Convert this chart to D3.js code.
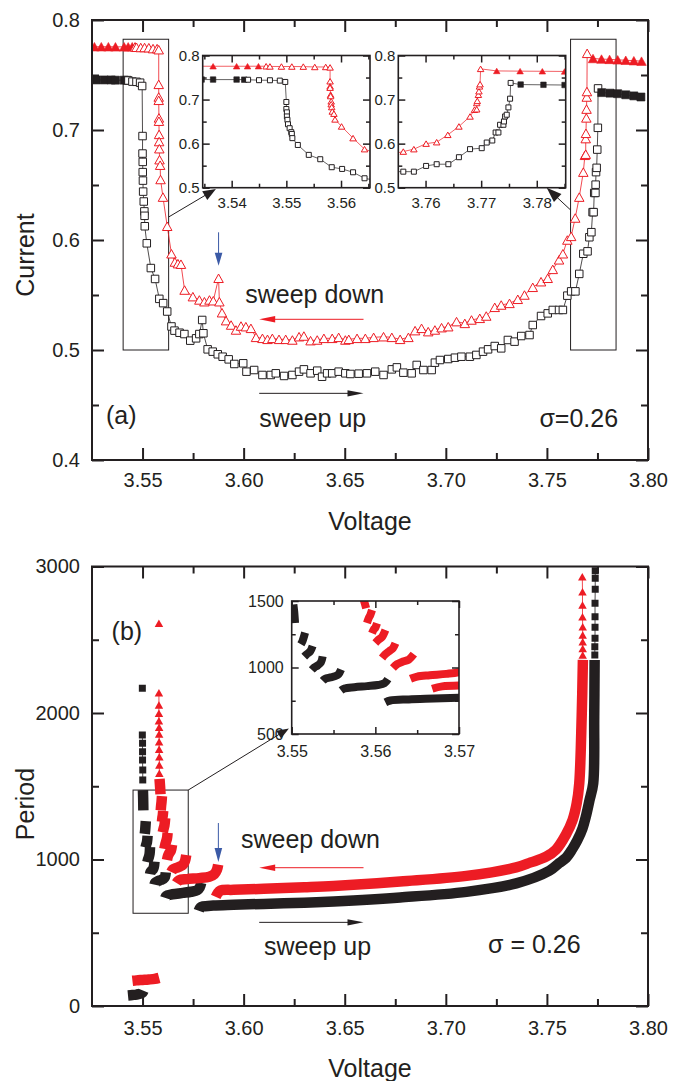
<!DOCTYPE html>
<html>
<head>
<meta charset="utf-8">
<script src="https://cdn.jsdelivr.net/npm/d3@7"></script>
<style>
  body { margin: 0; background: #fff; }
  svg { display: block; }
  text { font-family: "Liberation Sans", Arial, sans-serif; }
</style>
</head>
<body>
<script>
// ---------- data: current vs voltage (panel a) ----------
// [voltage, current], in sweep order
const currentSweepUp = [
  [3.5270,0.7455],[3.5310,0.7455],[3.5345,0.7455],[3.5366,0.7453],[3.5409,0.7453],[3.5423,0.7452],
  [3.5430,0.7450],[3.5450,0.7440],[3.5470,0.7438],[3.5488,0.7430],[3.5498,0.7400],
  [3.5500,0.6945],[3.5500,0.6786],[3.5501,0.6710],[3.5501,0.6617],[3.5502,0.6540],[3.5503,0.6440],
  [3.5506,0.6350],[3.5509,0.6260],[3.5510,0.6220],[3.5511,0.6125],[3.5521,0.5970],[3.5541,0.5745],
  [3.5562,0.5646],[3.5583,0.5465],[3.5602,0.5426],[3.5622,0.5350],[3.5643,0.5214],
  [3.5658,0.5176],[3.5683,0.5157],[3.5707,0.5145],[3.5736,0.5085],[3.5765,0.5106],[3.5781,0.5145],
  [3.5795,0.5273],[3.5801,0.5152],[3.5822,0.5006],[3.5847,0.4985],[3.5872,0.4961],[3.5896,0.4939],
  [3.5926,0.4915],[3.5954,0.4873],[3.5998,0.4879],[3.6014,0.4803],[3.6052,0.4818],[3.6093,0.4773],
  [3.6134,0.4773],[3.6159,0.4788],[3.6200,0.4764],[3.6241,0.4773],[3.6274,0.4803],[3.6298,0.4824],
  [3.6331,0.4788],[3.6364,0.4812],[3.6388,0.4757],[3.6413,0.4788],[3.6438,0.4788],[3.6470,0.4803],
  [3.6503,0.4788],[3.6528,0.4782],[3.6569,0.4785],[3.6610,0.4788],[3.6651,0.4803],[3.6692,0.4773],
  [3.6733,0.4824],[3.6758,0.4842],[3.6790,0.4794],[3.6831,0.4788],[3.6856,0.4864],[3.6889,0.4818],
  [3.6930,0.4818],[3.6946,0.4885],[3.6971,0.4909],[3.7012,0.4918],[3.7045,0.4930],[3.7077,0.4939],
  [3.7119,0.4939],[3.7151,0.4955],[3.7184,0.4985],[3.7209,0.5006],[3.7242,0.5036],[3.7274,0.5015],
  [3.7307,0.5091],[3.7340,0.5076],[3.7373,0.5127],[3.7414,0.5136],[3.7430,0.5227],[3.7471,0.5309],
  [3.7504,0.5333],[3.7529,0.5364],[3.7560,0.5364],[3.7579,0.5364],[3.7601,0.5494],[3.7620,0.5533],
  [3.7641,0.5533],[3.7660,0.5692],[3.7680,0.5875],[3.7701,0.5897],[3.7710,0.6025],[3.7720,0.6071],
  [3.7726,0.6253],[3.7731,0.6253],[3.7734,0.6428],[3.7740,0.6428],[3.7741,0.6503],[3.7743,0.6617],
  [3.7746,0.6656],[3.7749,0.6822],[3.7752,0.7020],[3.7753,0.7378],
  [3.7771,0.7340],[3.7812,0.7335],[3.7850,0.7330],[3.7890,0.7320],[3.7930,0.7310],[3.7965,0.7300]
];
const currentSweepDown = [
  [3.5262,0.7757],[3.5296,0.7757],[3.5331,0.7757],[3.5366,0.7756],[3.5409,0.7756],[3.5429,0.7756],[3.5449,0.7757],
  [3.5463,0.7756],[3.5470,0.7752],[3.5491,0.7750],[3.5510,0.7750],[3.5531,0.7748],[3.5552,0.7740],[3.5572,0.7740],[3.5580,0.7730],
  [3.5580,0.7415],[3.5580,0.7300],[3.5580,0.7270],[3.5581,0.7110],[3.5581,0.7080],[3.5582,0.6960],[3.5582,0.6895],
  [3.5583,0.6830],[3.5584,0.6730],[3.5587,0.6680],[3.5589,0.6550],[3.5601,0.6390],[3.5622,0.6125],[3.5643,0.5875],
  [3.5660,0.5800],[3.5675,0.5785],[3.5690,0.5780],[3.5708,0.5545],[3.5749,0.5485],[3.5781,0.5455],[3.5806,0.5439],
  [3.5831,0.5455],[3.5850,0.5448],[3.5876,0.5652],[3.5880,0.5439],[3.5893,0.5339],[3.5913,0.5267],[3.5938,0.5227],
  [3.5962,0.5182],[3.5987,0.5218],[3.6011,0.5212],[3.6036,0.5197],[3.6061,0.5115],[3.6093,0.5106],[3.6118,0.5097],
  [3.6142,0.5106],[3.6175,0.5097],[3.6208,0.5097],[3.6241,0.5091],[3.6274,0.5121],[3.6298,0.5127],[3.6331,0.5085],
  [3.6364,0.5091],[3.6397,0.5106],[3.6438,0.5106],[3.6470,0.5115],[3.6503,0.5091],[3.6520,0.5097],[3.6561,0.5106],
  [3.6602,0.5106],[3.6643,0.5115],[3.6692,0.5121],[3.6733,0.5115],[3.6774,0.5097],[3.6815,0.5115],[3.6848,0.5176],
  [3.6880,0.5197],[3.6913,0.5167],[3.6946,0.5182],[3.6979,0.5203],[3.7012,0.5212],[3.7053,0.5258],[3.7094,0.5242],
  [3.7127,0.5273],[3.7168,0.5288],[3.7200,0.5309],[3.7242,0.5388],[3.7274,0.5409],[3.7315,0.5424],[3.7356,0.5461],
  [3.7389,0.5500],[3.7430,0.5570],[3.7471,0.5621],[3.7504,0.5652],[3.7529,0.5733],[3.7560,0.5820],[3.7579,0.5875],
  [3.7601,0.6000],[3.7620,0.6033],[3.7640,0.6200],[3.7660,0.6390],[3.7680,0.6617],[3.7688,0.6770],[3.7692,0.6780],
  [3.7692,0.6922],[3.7693,0.6970],[3.7695,0.7110],[3.7696,0.7190],[3.7697,0.7300],[3.7698,0.7350],[3.7699,0.7697],
  [3.7728,0.7650],[3.7770,0.7645],[3.7810,0.7642],[3.7850,0.7638],[3.7890,0.7634],[3.7930,0.7630],[3.7968,0.7626]
];
// voltage window in which each sweep oscillates (open symbols)
const upOscillatingRange = [3.5427, 3.7760];
const downOscillatingRange = [3.5456, 3.7710];

// ---------- data: period vs voltage (panel b) ----------
// continuous runs of densely sampled points, [voltage, period]
const periodUpBands = [
  [[3.5428,72],[3.5450,75],[3.5470,78],[3.5490,84],[3.5500,92],[3.5505,104]],
  [[3.5502,1474],[3.5503,1420],[3.5504,1335]],
  [[3.5511,1175],[3.5513,1200],[3.5516,1262]],
  [[3.5515,1082],[3.5518,1100],[3.5522,1120],[3.5525,1162]],
  [[3.5524,982],[3.5527,1000],[3.5531,1015],[3.5535,1040],[3.5537,1084]],
  [[3.5537,900],[3.5540,915],[3.5546,925],[3.5552,935],[3.5556,950],[3.5559,985]],
  [[3.5559,828],[3.5563,842],[3.5575,852],[3.5590,860],[3.5603,868],[3.5611,882],[3.5615,912]],
  [[3.5612,738],[3.5618,752],[3.5640,760],[3.5670,766],[3.5700,772],[3.5740,780],[3.5770,790],[3.5783,810],[3.5790,840]],
  [[3.5778,650],[3.5786,672],[3.5800,680],[3.5850,686],[3.5950,691],[3.6100,697],[3.6300,705],[3.6446,714],
   [3.6774,741],[3.7102,779],[3.7348,837],[3.7512,923],[3.7560,975],[3.7594,1010],[3.7625,1070],[3.7650,1130],
   [3.7676,1212],[3.7692,1290],[3.7710,1400],[3.7729,1520],[3.7734,1975],[3.7736,2362]]
];
// isolated samples, [voltage, period]
const periodUpPoints = [
  [3.5499,2169],[3.5499,1850],[3.5500,1793],[3.5500,1736],[3.5500,1679],[3.5501,1611],[3.5501,1543],
  [3.7737,2396],[3.7737,2453],[3.7738,2510],[3.7738,2585],[3.7738,2657],[3.7738,2749],[3.7739,2844],[3.7739,2919],[3.7739,2971]
];
const periodDownBands = [
  [[3.5450,172],[3.5470,175],[3.5500,178],[3.5530,181],[3.5560,185],[3.5582,192]],
  [[3.5584,1550],[3.5587,1490],[3.5589,1445]],
  [[3.5590,1335],[3.5592,1370],[3.5594,1395],[3.5596,1432]],
  [[3.5596,1258],[3.5598,1285],[3.5600,1300],[3.5602,1332]],
  [[3.5600,1185],[3.5604,1210],[3.5608,1230],[3.5612,1282]],
  [[3.5608,1072],[3.5612,1100],[3.5617,1125],[3.5621,1145],[3.5624,1182]],
  [[3.5621,996],[3.5626,1025],[3.5633,1045],[3.5640,1060],[3.5646,1100]],
  [[3.5642,915],[3.5650,932],[3.5665,942],[3.5685,952],[3.5700,965],[3.5710,990],[3.5716,1030]],
  [[3.5668,840],[3.5680,858],[3.5720,866],[3.5780,873],[3.5830,882],[3.5855,900],[3.5868,930],[3.5874,965]],
  [[3.5862,745],[3.5872,770],[3.5885,788],[3.5950,793],[3.6100,800],[3.6300,810],[3.6446,819],[3.6774,850],
   [3.7102,888],[3.7348,946],[3.7420,980],[3.7496,1019],[3.7545,1068],[3.7594,1170],[3.7627,1270],[3.7647,1380],
   [3.7660,1520],[3.7672,1975],[3.7678,2362]]
];
const periodDownPoints = [
  [3.5581,2612],[3.5581,2138],[3.5581,2054],[3.5581,1998],[3.5581,1947],[3.5582,1902],[3.5582,1857],
  [3.5582,1804],[3.5582,1752],[3.5583,1702],[3.5583,1645],[3.5583,1588],
  [3.7677,2396],[3.7677,2441],[3.7677,2487],[3.7677,2532],[3.7677,2589],[3.7676,2657],[3.7676,2737],[3.7676,2828],[3.7675,2930]
];

// ---------- axis ticks ----------
const voltageMajor = [3.55, 3.60, 3.65, 3.70, 3.75, 3.80];
const voltageMinor = [3.575, 3.625, 3.675, 3.725, 3.775];
const currentMajor = [0.4, 0.5, 0.6, 0.7, 0.8];
const currentMinor = [0.45, 0.55, 0.65, 0.75];
const periodMajor = [0, 1000, 2000, 3000];
const periodMinor = [500, 1500, 2500];
const insetLeftVoltMajor = [3.54, 3.55, 3.56];
const insetLeftVoltMinor = [3.535, 3.545, 3.555, 3.565];
const insetRightVoltMajor = [3.76, 3.77, 3.78];
const insetRightVoltMinor = [3.765, 3.775, 3.785];
const insetCurrentMajor = [0.5, 0.6, 0.7, 0.8];
const insetCurrentMinor = [0.55, 0.65, 0.75];
const insetPeriodVoltMajor = [3.55, 3.56, 3.57];
const insetPeriodVoltMinor = [3.555, 3.565];
const insetPeriodMajor = [500, 1000, 1500];
const insetPeriodMinor = [750, 1250];

// ---------- annotations (data units) ----------
const zoomBoxesA = [[3.5404, 3.5629, 0.5, 0.7825], [3.7617, 3.7842, 0.5, 0.7825]];
const zoomBoxB = [3.5453, 3.5726, 633, 1474];

// ---------- drawing ----------
const BLACK = "#231f20", RED = "#ed1c24", BLUE = "#3b5aa6";
const W = 685, H = 1081;
const svg = d3.select("body").append("svg").attr("width", W).attr("height", H);
const defs = svg.append("defs");

const xA = d3.scaleLinear().domain([3.525, 3.80]).range([92, 648]);
const yA = d3.scaleLinear().domain([0.4, 0.8]).range([460, 20]);
const xB = d3.scaleLinear().domain([3.525, 3.80]).range([92, 648]);
const yB = d3.scaleLinear().domain([0, 3000]).range([1006, 566.5]);

const xIL = d3.scaleLinear().domain([3.5347, 3.5653]).range([202.7, 370]);
const yIL = d3.scaleLinear().domain([0.5, 0.8]).range([187.7, 55.5]);
const xIR = d3.scaleLinear().domain([3.7551, 3.7852]).range([398.3, 565.7]);
const yIR = yIL.copy();
const xIB = d3.scaleLinear().domain([3.55, 3.57]).range([291.7, 459]);
const yIB = d3.scaleLinear().domain([500, 1500]).range([734, 601]);

let clipId = 0;
function clipFor(x, y) {
  const id = "clip" + (clipId++);
  const [x0, x1] = x.range(), [y0, y1] = y.range();
  defs.append("clipPath").attr("id", id).append("rect")
    .attr("x", x0).attr("y", y1).attr("width", x1 - x0).attr("height", y0 - y1);
  return `url(#${id})`;
}

function drawFrame(g, x, y, o) {
  const [x0, x1] = x.range(), [y0, y1] = y.range();
  const inDom = (s, vals) => vals.filter(v => v >= Math.min(...s.domain()) - 1e-9 && v <= Math.max(...s.domain()) + 1e-9);
  const add = (axis, tx, ty, vals, size, fmt, pad) => {
    const a = g.append("g").attr("transform", `translate(${tx},${ty})`)
      .call(axis.tickValues(vals).tickSizeInner(size).tickSizeOuter(0).tickPadding(pad).tickFormat(fmt));
    a.select(".domain").remove();
    a.attr("color", BLACK).attr("font-size", o.font);
    a.selectAll(".tick line").attr("stroke-width", o.tw);
    a.selectAll("text").attr("fill", BLACK);
    return a;
  };
  const none = () => "";
  const xM = inDom(x, o.xMajor), xm = inDom(x, o.xMinor), yM = inDom(y, o.yMajor), ym = inDom(y, o.yMinor);
  add(d3.axisBottom(x), 0, y0, xM, -o.major, o.xFmt, o.xPad);
  add(d3.axisBottom(x), 0, y0, xm, -o.minor, none, 0);
  add(d3.axisTop(x), 0, y1, xM, -o.major, none, 0);
  add(d3.axisTop(x), 0, y1, xm, -o.minor, none, 0);
  add(d3.axisLeft(y), x0, 0, yM, -o.major, o.yFmt, o.yPad);
  add(d3.axisLeft(y), x0, 0, ym, -o.minor, none, 0);
  add(d3.axisRight(y), x1, 0, yM, -o.major, none, 0);
  add(d3.axisRight(y), x1, 0, ym, -o.minor, none, 0);
  g.append("rect").attr("x", x0).attr("y", y1).attr("width", x1 - x0).attr("height", y0 - y1)
    .attr("fill", "none").attr("stroke", BLACK).attr("stroke-width", o.sw);
}

function squarePath(s) { return `M${-s/2},${-s/2}h${s}v${s}h${-s}Z`; }
function trianglePath(w, h) { return `M0,${-h/2}L${w/2},${h/2}L${-w/2},${h/2}Z`; }

// connected scatter with open symbols inside the oscillating window, filled outside
function drawCurrent(g, x, y, data, osc, color, symbol, lw) {
  const isOpen = d => d[0] >= osc[0] && d[0] <= osc[1];
  g.append("path").datum(data)
    .attr("d", d3.line().x(d => x(d[0])).y(d => y(d[1])))
    .attr("fill", "none").attr("stroke", color).attr("stroke-width", lw);
  g.selectAll(null).data(data).join("path")
    .attr("transform", d => `translate(${x(d[0])},${y(d[1])})`)
    .attr("d", d => isOpen(d) ? symbol.open : symbol.filled)
    .attr("fill", d => isOpen(d) ? "#fff" : color)
    .attr("stroke", color).attr("stroke-width", d => isOpen(d) ? 1 : 0.6);
}

// dense runs drawn as a thick trace, isolated samples as symbols
function drawPeriod(g, x, y, bands, points, color, shape, bandW) {
  const line = d3.line().x(d => x(d[0])).y(d => y(d[1])).curve(d3.curveCatmullRom.alpha(0.5));
  g.selectAll(null).data(bands).join("path")
    .attr("d", line).attr("fill", "none").attr("stroke", color)
    .attr("stroke-width", bandW).attr("stroke-linejoin", "round").attr("stroke-linecap", "butt");
  for (let i = 1; i < points.length; i++) {
    const a = points[i - 1], b = points[i];
    const d = Math.hypot(x(a[0]) - x(b[0]), y(a[1]) - y(b[1]));
    if (d < 20) g.append("line").attr("x1", x(a[0])).attr("y1", y(a[1])).attr("x2", x(b[0])).attr("y2", y(b[1]))
      .attr("stroke", color).attr("stroke-width", 0.8);
  }
  g.selectAll(null).data(points).join("path")
    .attr("transform", d => `translate(${x(d[0])},${y(d[1])})`)
    .attr("d", shape).attr("fill", color);
}

function arrow(g, x1, y1, x2, y2, color, len, half, sw) {
  const ang = Math.atan2(y2 - y1, x2 - x1);
  const bx = x2 - len * Math.cos(ang), by = y2 - len * Math.sin(ang);
  const px = -Math.sin(ang) * half, py = Math.cos(ang) * half;
  g.append("line").attr("x1", x1).attr("y1", y1).attr("x2", bx + Math.cos(ang) * 2).attr("y2", by + Math.sin(ang) * 2)
    .attr("stroke", color).attr("stroke-width", sw);
  g.append("path").attr("d", `M${x2},${y2}L${bx + px},${by + py}L${bx - px},${by - py}Z`).attr("fill", color);
}

function label(g, x, y, txt, size, anchor) {
  return g.append("text").attr("x", x).attr("y", y).attr("font-size", size)
    .attr("text-anchor", anchor || "start").attr("fill", BLACK).text(txt);
}

const fmt2 = d3.format(".2f"), fmt1 = d3.format(".1f"), fmtD = d3.format("d");

// ===== panel (a) =====
const gA = svg.append("g");
const clipA = clipFor(xA, yA);
zoomBoxesA.forEach(b => {
  gA.append("rect").attr("x", xA(b[0])).attr("y", yA(b[3])).attr("width", xA(b[1]) - xA(b[0]))
    .attr("height", yA(b[2]) - yA(b[3])).attr("fill", "none").attr("stroke", BLACK).attr("stroke-width", 1);
});
const dataA = gA.append("g").attr("clip-path", clipA);
const symA = {
  sq: { open: squarePath(7.5), filled: squarePath(8) },
  tri: { open: trianglePath(9.5, 8.5), filled: trianglePath(9.5, 8.5) }
};
drawCurrent(dataA, xA, yA, currentSweepUp, upOscillatingRange, BLACK, symA.sq, 0.8);
drawCurrent(dataA, xA, yA, currentSweepDown, downOscillatingRange, RED, symA.tri, 0.8);
drawFrame(gA, xA, yA, { xMajor: voltageMajor, xMinor: voltageMinor, yMajor: currentMajor, yMinor: currentMinor,
  xFmt: fmt2, yFmt: fmt1, major: 12, minor: 7, font: 20, xPad: 13, yPad: 12, tw: 2, sw: 2 });

// arrows linking the zoom boxes to the insets
arrow(gA, xA(3.5629), yA(0.6209), xA(3.5863), yA(0.6464), BLACK, 13, 5, 1);
arrow(gA, xA(3.7617), yA(0.6273), xA(3.7499), yA(0.6475), BLACK, 15, 5.5, 1);

// insets of panel (a)
[[xIL, yIL, insetLeftVoltMajor, insetLeftVoltMinor], [xIR, yIR, insetRightVoltMajor, insetRightVoltMinor]].forEach(([xi, yi, M, m]) => {
  const gi = svg.append("g");
  const [x0, x1] = xi.range(), [y0, y1] = yi.range();
  gi.append("rect").attr("x", x0).attr("y", y1).attr("width", x1 - x0).attr("height", y0 - y1).attr("fill", "#fff");
  const di = gi.append("g").attr("clip-path", clipFor(xi, yi));
  drawCurrent(di, xi, yi, currentSweepUp, upOscillatingRange, BLACK, { open: squarePath(5), filled: squarePath(5.5) }, 0.7);
  drawCurrent(di, xi, yi, currentSweepDown, downOscillatingRange, RED, { open: trianglePath(6.5, 5.5), filled: trianglePath(6.5, 5.5) }, 0.7);
  drawFrame(gi, xi, yi, { xMajor: M, xMinor: m, yMajor: insetCurrentMajor, yMinor: insetCurrentMinor,
    xFmt: fmt2, yFmt: fmt1, major: 7, minor: 4, font: 15, xPad: 9.5, yPad: 3, tw: 1.5, sw: 1.6 });
});

// sweep direction arrows and notes
arrow(gA, xA(3.6593), yA(0.5279), xA(3.6077), yA(0.5279), RED, 16, 3.2, 1);
arrow(gA, xA(3.6077), yA(0.4606), xA(3.6593), yA(0.4606), BLACK, 16, 3.2, 1);
arrow(gA, xA(3.5876), yA(0.607), xA(3.5876), yA(0.5765), BLUE, 13, 3.8, 1);
label(gA, xA(3.6008), yA(0.5427), "sweep down", 25);
label(gA, xA(3.6077), yA(0.4303), "sweep up", 25);
label(gA, xA(3.5319), yA(0.4323), "(a)", 25);
label(gA, xA(3.7463), yA(0.4303), "σ=0.26", 25);
label(gA, 370, 530, "Voltage", 25, "middle");
svg.append("text").attr("transform", "translate(34,255) rotate(-90)").attr("text-anchor", "middle")
  .attr("font-size", 25).attr("fill", BLACK).text("Current");

// ===== panel (b) =====
const gB = svg.append("g");
gB.append("rect").attr("x", xB(zoomBoxB[0])).attr("y", yB(zoomBoxB[3])).attr("width", xB(zoomBoxB[1]) - xB(zoomBoxB[0]))
  .attr("height", yB(zoomBoxB[2]) - yB(zoomBoxB[3])).attr("fill", "none").attr("stroke", BLACK).attr("stroke-width", 1);
const dataB = gB.append("g").attr("clip-path", clipFor(xB, yB));
drawPeriod(dataB, xB, yB, periodUpBands, periodUpPoints, BLACK, squarePath(7), 10.5);
drawPeriod(dataB, xB, yB, periodDownBands, periodDownPoints, RED, trianglePath(8.5, 7.5), 10.5);
drawFrame(gB, xB, yB, { xMajor: voltageMajor, xMinor: voltageMinor, yMajor: periodMajor, yMinor: periodMinor,
  xFmt: fmt2, yFmt: fmtD, major: 12, minor: 7, font: 20, xPad: 15, yPad: 12, tw: 2, sw: 2 });

arrow(gB, xB(3.5726), yB(1474), xB(3.6224), yB(1895), BLACK, 12, 4.5, 1);

// inset of panel (b)
{
  const gi = svg.append("g");
  const [x0, x1] = xIB.range(), [y0, y1] = yIB.range();
  gi.append("rect").attr("x", x0).attr("y", y1).attr("width", x1 - x0).attr("height", y0 - y1).attr("fill", "#fff");
  const di = gi.append("g").attr("clip-path", clipFor(xIB, yIB));
  drawPeriod(di, xIB, yIB, periodUpBands, [], BLACK, squarePath(6), 8);
  drawPeriod(di, xIB, yIB, periodDownBands, [], RED, trianglePath(7, 6), 8);
  drawFrame(gi, xIB, yIB, { xMajor: insetPeriodVoltMajor, xMinor: insetPeriodVoltMinor, yMajor: insetPeriodMajor,
    yMinor: insetPeriodMinor, xFmt: fmt2, yFmt: fmtD, major: 7, minor: 4, font: 16, xPad: 11.5, yPad: 8, tw: 1.5, sw: 1.6 });
}

arrow(gB, xB(3.6593), yB(944), xB(3.6077), yB(944), RED, 16, 3.2, 1);
arrow(gB, xB(3.6077), yB(571), xB(3.6593), yB(571), BLACK, 16, 3.2, 1);
arrow(gB, xB(3.5875), yB(1249), xB(3.5875), yB(983), BLUE, 14, 3.8, 1);
label(gB, xB(3.5987), yB(1076), "sweep down", 25);
label(gB, xB(3.6101), yB(348), "sweep up", 25);
label(gB, xB(3.5347), yB(2498), "(b)", 25);
label(gB, xB(3.7209), yB(360), "σ = 0.26", 25);
label(gB, 370, 1077, "Voltage", 25, "middle");
svg.append("text").attr("transform", "translate(34,804) rotate(-90)").attr("text-anchor", "middle")
  .attr("font-size", 25).attr("fill", BLACK).text("Period");
</script>
</body>
</html>
